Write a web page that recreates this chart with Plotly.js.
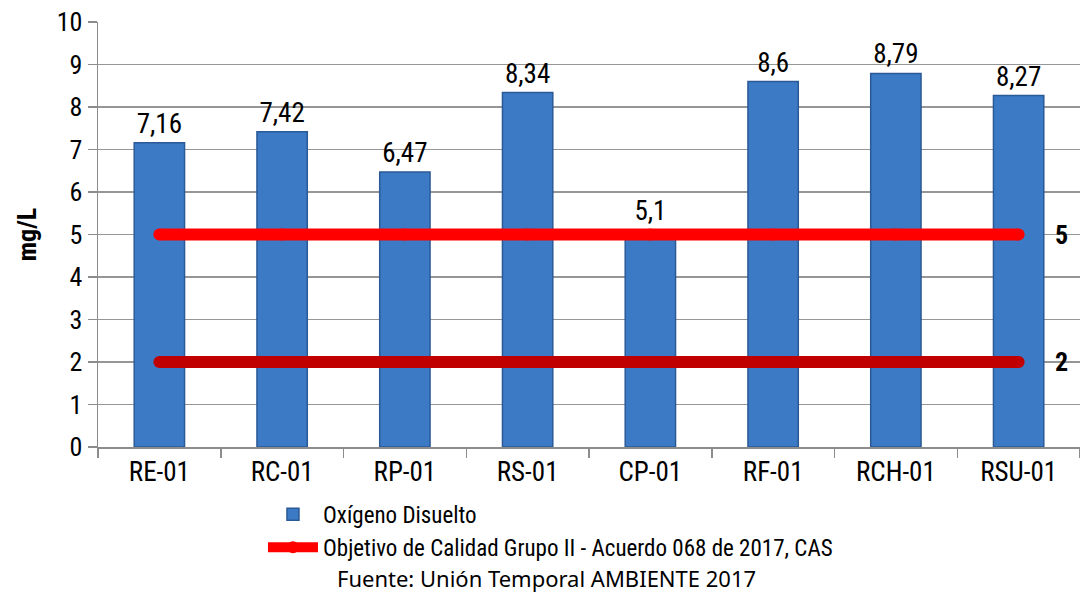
<!DOCTYPE html>
<html>
<head>
<meta charset="utf-8">
<script src="https://cdn.plot.ly/plotly-3.0.1.min.js"></script>
<style>html,body{margin:0;padding:0;background:#fff;}#chart{width:1080px;height:592px;}</style>
</head>
<body>
<div id="chart"></div>
<script>
const categories = ['RE-01','RC-01','RP-01','RS-01','CP-01','RF-01','RCH-01','RSU-01'];
const oxigeno = [7.16, 7.42, 6.47, 8.34, 5.1, 8.6, 8.79, 8.27];
const objetivoAlto = [5, 5, 5, 5, 5, 5, 5, 5];
const objetivoBajo = [2, 2, 2, 2, 2, 2, 2, 2];
const yTicks = [0,1,2,3,4,5,6,7,8,9,10];
const serieNombre = 'Oxígeno Disuelto';
const objetivoNombre = 'Objetivo de Calidad Grupo II - Acuerdo 068 de 2017, CAS';
const fuente = 'Fuente: Unión Temporal AMBIENTE 2017';

const narrow = '"Liberation Sans Narrow", "Arial Narrow", "Roboto Condensed", Arial, sans-serif';
const fmt = v => String(v).replace('.', ',');

const traces = [
  {
    type: 'bar', x: categories, y: oxigeno, name: serieNombre,
    marker: {color: '#3D7AC6', line: {color: '#2A5A96', width: 1.5}},
    text: oxigeno.map(fmt), textposition: 'outside', cliponaxis: false,
    textfont: {family: narrow, size: 27, color: '#000'},
    width: 0.41
  },
  {
    type: 'scatter', mode: 'lines+markers', x: categories, y: objetivoAlto, name: objetivoNombre,
    line: {color: '#FF0000', width: 12}, marker: {color: '#FF0000', size: 12},
    hoverinfo: 'skip'
  },
  {
    type: 'scatter', mode: 'lines+markers', x: categories, y: objetivoBajo, name: 'bajo',
    line: {color: '#C00000', width: 12}, marker: {color: '#C00000', size: 12},
    showlegend: false, hoverinfo: 'skip'
  }
];

const layout = {
  width: 1080, height: 592,
  margin: {l: 98, r: 0, t: 22, b: 145},
  paper_bgcolor: '#fff', plot_bgcolor: '#fff',
  showlegend: true,
  legend: {
    x: 0.168, y: -0.108, xanchor: 'left', yanchor: 'top',
    orientation: 'v', font: {family: narrow, size: 23, color: '#000'},
    itemwidth: 50, tracegroupgap: 0, bgcolor: 'rgba(0,0,0,0)'
  },
  xaxis: {
    type: 'category', tickfont: {family: narrow, size: 27, color: '#000'},
    showline: true, linecolor: '#8c8c8c', linewidth: 1.5,
    ticks: 'outside', ticklen: 9, tickcolor: '#8c8c8c', tickwidth: 1.5,
    tickson: 'boundaries', showgrid: false, fixedrange: true
  },
  yaxis: {
    range: [0, 10], tickvals: yTicks, ticktext: yTicks.map(String),
    tickfont: {family: narrow, size: 26, color: '#000'},
    showgrid: true, gridcolor: '#969696', gridwidth: 1.2,
    showline: true, linecolor: '#8c8c8c', linewidth: 1.5,
    ticks: 'outside', ticklen: 9, tickcolor: '#8c8c8c', tickwidth: 1.5,
    zeroline: false,
    title: {text: '<b>mg/L</b>', font: {family: narrow, size: 26, color: '#000'}, standoff: 12}
  },
  annotations: [
    {xref: 'paper', yref: 'y', x: 0.99, y: objetivoAlto[0], text: '<b>' + objetivoAlto[0] + '</b>', showarrow: false,
     font: {family: narrow, size: 26, color: '#000'}},
    {xref: 'paper', yref: 'y', x: 0.99, y: objetivoBajo[0], text: '<b>' + objetivoBajo[0] + '</b>', showarrow: false,
     font: {family: narrow, size: 26, color: '#000'}},
    {xref: 'paper', yref: 'paper', x: 0.457, y: -0.308, yanchor: 'middle', text: fuente, showarrow: false,
     font: {family: '"Noto Sans", "Open Sans", sans-serif', size: 22, color: '#000'}}
  ]
};

Plotly.newPlot('chart', traces, layout, {displayModeBar: false, staticPlot: true});
</script>
</body>
</html>
